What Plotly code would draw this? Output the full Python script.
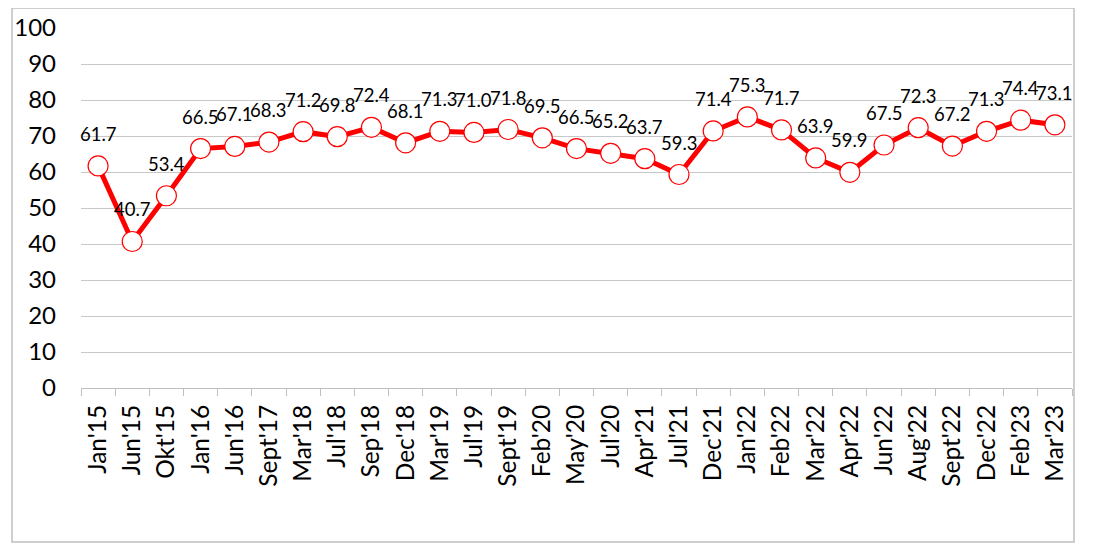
import plotly.graph_objects as go

categories = ["Jan'15", "Jun'15", "Okt'15", "Jan'16", "Jun'16", "Sept'17", "Mar'18", "Jul'18",
              "Sep'18", "Dec'18", "Mar'19", "Jul'19", "Sept'19", "Feb'20", "May'20", "Jul'20",
              "Apr'21", "Jul'21", "Dec'21", "Jan'22", "Feb'22", "Mar'22", "Apr'22", "Jun'22",
              "Aug'22", "Sept'22", "Dec'22", "Feb'23", "Mar'23"]
values = [61.7, 40.7, 53.4, 66.5, 67.1, 68.3, 71.2, 69.8, 72.4, 68.1, 71.3, 71.0, 71.8, 69.5,
          66.5, 65.2, 63.7, 59.3, 71.4, 75.3, 71.7, 63.9, 59.9, 67.5, 72.3, 67.2, 71.3, 74.4, 73.1]
y_ticks = list(range(0, 101, 10))

FONT = "Lato"

fig = go.Figure()
fig.add_trace(go.Scatter(
    x=categories, y=values, mode="lines+markers",
    line=dict(color="#FF0000", width=5),
    marker=dict(size=20, color="white", line=dict(color="#FF0000", width=1.2)),
    showlegend=False, hoverinfo="skip",
))

for c, v in zip(categories, values):
    fig.add_annotation(x=c, y=v, text=f"{v:.1f}", showarrow=False, yshift=32,
                       font=dict(family=FONT, size=18.5, color="black"))

fig.add_shape(type="rect", xref="paper", yref="paper",
              x0=-0.0696, x1=1.002, y0=-0.428, y1=1.0556,
              line=dict(color="#BFBFBF", width=1.5), fillcolor="rgba(0,0,0,0)", layer="below")

fig.update_layout(
    width=1085, height=547,
    margin=dict(l=73, r=21, t=20, b=167, autoexpand=False),
    paper_bgcolor="white", plot_bgcolor="white",
    font=dict(family=FONT, color="black"),
    xaxis=dict(type="category", tickangle=-90, tickfont=dict(size=24.5), automargin=False,
               showgrid=False, showline=True, linecolor="#BFBFBF", linewidth=1,
               ticks="outside", tickson="boundaries", ticklen=7, tickcolor="#BFBFBF",
               ticklabelstandoff=6,
               range=[-0.5, len(categories) - 0.5]),
    yaxis=dict(range=[0, 100], tickvals=y_ticks, tickfont=dict(size=24), automargin=False,
               showgrid=True, gridcolor="#C8C8C8", gridwidth=1, zeroline=False,
               showline=False, ticklabelstandoff=24),
)

fig.write_html("out.html")
